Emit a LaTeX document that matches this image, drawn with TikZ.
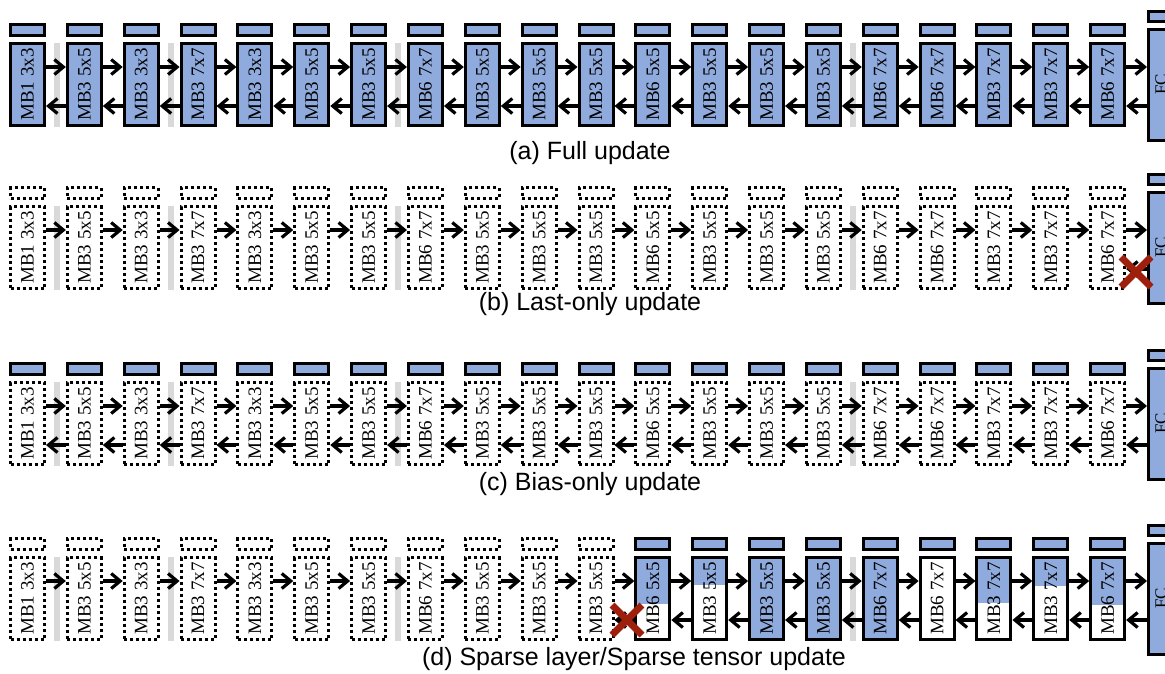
\documentclass[tikz,border=0pt]{standalone}
\usepackage{fontspec}
\usepackage{graphicx}
\setmainfont{Liberation Serif}
\newfontfamily\capfont{Liberation Sans}
\usetikzlibrary{arrows.meta}
\definecolor{blk}{HTML}{8FAADC}
\definecolor{gbar}{HTML}{D9D9D9}
\definecolor{xred}{RGB}{158,32,12}
\begin{document}
\begin{tikzpicture}[x=1pt,y=-1pt,
  dotline/.style={dash pattern=on 3pt off 3pt},
  bar/.style={draw=black,line width=3pt,fill=blk,minimum width=34pt,minimum height=11pt,inner sep=0pt},
  dbar/.style={bar,fill=none,dotline},
  blockbox/.style={draw=black,line width=3pt,fill=blk,minimum width=34pt,minimum height=82pt,inner sep=0pt,font=\fontsize{19}{19}\selectfont},
  dblock/.style={blockbox,fill=none,dotline},
  pblock/.style={blockbox,fill=white,path picture={\fill[blk] (path picture bounding box.north west) rectangle ([yshift=-#1*82pt]path picture bounding box.north east);}},
  fcbox/.style={draw=black,line width=3pt,fill=blk,minimum width=25pt,minimum height=111pt,inner sep=0pt,font=\fontsize{17}{17}\selectfont},
  fcbar/.style={bar,minimum width=25pt,minimum height=10pt},
  arr/.style={line width=3.2pt,-{Straight Barb[length=9pt,width=15pt,line width=3.2pt]}},
  xmark/.style={draw=xred,line width=7pt},
  sepbar/.style={fill=gbar},
  captext/.style={font=\capfont\fontsize{25}{25}\selectfont}
]
\useasboundingbox (0,0) rectangle (1165,673);
\clip (0,0) rectangle (1165,673);

% separator bars
\foreach \dy in {0,163,339,514}{
  \foreach \i in {0,2,6,14}{
    \fill[sepbar] ({27.5+56.85*\i+26.5},{43+\dy}) rectangle ++(6,84);
  }
}

% ---------- Row a ----------
\foreach \lab [count=\i from 0] in {MB1 3x3,MB3 5x5,MB3 3x3,MB3 7x7,MB3 3x3,MB3 5x5,MB3 5x5,MB6 7x7,MB3 5x5,MB3 5x5,MB3 5x5,MB6 5x5,MB3 5x5,MB3 5x5,MB3 5x5,MB6 7x7,MB6 7x7,MB3 7x7,MB3 7x7,MB6 7x7}{
  \node[bar] (abar\i) at ({27.5+56.85*\i},30) {};
  \node[blockbox] (a\i) at ({27.5+56.85*\i},84.5) {\rotatebox{90}{\lab}};
}
\node[fcbar] (afcbar) at (1161,16.5) {};
\node[fcbox] (afc) at (1161,84.5) {\rotatebox{90}{FC}};
\foreach \i in {0,...,18}{
  \pgfmathtruncatemacro\j{\i+1}
  \draw[arr] ([yshift=17.5pt]a\i.east) -- ([yshift=17.5pt]a\j.west);
  \draw[arr] ([yshift=-21.5pt]a\j.west) -- ([yshift=-21.5pt]a\i.east);
}
\draw[arr] ([yshift=17.5pt]a19.east) -- ([yshift=17.5pt]afc.west);
\draw[arr] ([yshift=-21.5pt]afc.west) -- ([yshift=-21.5pt]a19.east);
\node[captext] (capa) at (590,153) {(a) Full update};

% ---------- Row b ----------
\foreach \lab [count=\i from 0] in {MB1 3x3,MB3 5x5,MB3 3x3,MB3 7x7,MB3 3x3,MB3 5x5,MB3 5x5,MB6 7x7,MB3 5x5,MB3 5x5,MB3 5x5,MB6 5x5,MB3 5x5,MB3 5x5,MB3 5x5,MB6 7x7,MB6 7x7,MB3 7x7,MB3 7x7,MB6 7x7}{
  \node[dbar] (bbar\i) at ({27.5+56.85*\i},193) {};
  \node[dblock] (b\i) at ({27.5+56.85*\i},247.5) {\rotatebox{90}{\lab}};
}
\node[fcbar] (bfcbar) at (1161,179.5) {};
\node[fcbox] (bfc) at (1161,247.5) {\rotatebox{90}{FC}};
\foreach \i in {0,...,18}{
  \pgfmathtruncatemacro\j{\i+1}
  \draw[arr] ([yshift=17.5pt]b\i.east) -- ([yshift=17.5pt]b\j.west);
}
\draw[arr] ([yshift=17.5pt]b19.east) -- ([yshift=17.5pt]bfc.west);
\draw[arr] ([yshift=-21.5pt]bfc.west) -- ([yshift=-21.5pt]b19.east);
\coordinate (xb) at (1136,272);
\draw[xmark] ([shift={(-15,-15)}]xb) -- ([shift={(15,15)}]xb);
\draw[xmark] ([shift={(-15,15)}]xb) -- ([shift={(15,-15)}]xb);
\node[captext] (capb) at (590,304) {(b) Last-only update};

% ---------- Row c ----------
\foreach \lab [count=\i from 0] in {MB1 3x3,MB3 5x5,MB3 3x3,MB3 7x7,MB3 3x3,MB3 5x5,MB3 5x5,MB6 7x7,MB3 5x5,MB3 5x5,MB3 5x5,MB6 5x5,MB3 5x5,MB3 5x5,MB3 5x5,MB6 7x7,MB6 7x7,MB3 7x7,MB3 7x7,MB6 7x7}{
  \node[bar] (cbar\i) at ({27.5+56.85*\i},369) {};
  \node[dblock] (c\i) at ({27.5+56.85*\i},423.5) {\rotatebox{90}{\lab}};
}
\node[fcbar] (cfcbar) at (1161,355.5) {};
\node[fcbox] (cfc) at (1161,423.5) {\rotatebox{90}{FC}};
\foreach \i in {0,...,18}{
  \pgfmathtruncatemacro\j{\i+1}
  \draw[arr] ([yshift=17.5pt]c\i.east) -- ([yshift=17.5pt]c\j.west);
  \draw[arr] ([yshift=-21.5pt]c\j.west) -- ([yshift=-21.5pt]c\i.east);
}
\draw[arr] ([yshift=17.5pt]c19.east) -- ([yshift=17.5pt]cfc.west);
\draw[arr] ([yshift=-21.5pt]cfc.west) -- ([yshift=-21.5pt]c19.east);
\node[captext] (capc) at (590,484) {(c) Bias-only update};

% ---------- Row d ----------
\foreach \lab [count=\i from 0] in {MB1 3x3,MB3 5x5,MB3 3x3,MB3 7x7,MB3 3x3,MB3 5x5,MB3 5x5,MB6 7x7,MB3 5x5,MB3 5x5,MB3 5x5}{
  \node[dbar] (dbar\i) at ({27.5+56.85*\i},544) {};
  \node[dblock] (d\i) at ({27.5+56.85*\i},598.5) {\rotatebox{90}{\lab}};
}
\foreach \i/\lab/\f in {11/MB6 5x5/0.567,12/MB3 5x5/0.335,13/MB3 5x5/1,14/MB3 5x5/1,15/MB6 7x7/1,16/MB6 7x7/0,17/MB3 7x7/0.555,18/MB3 7x7/0.347,19/MB6 7x7/0.58}{
  \node[bar] (dbar\i) at ({27.5+56.85*\i},544) {};
  \node[pblock=\f] (d\i) at ({27.5+56.85*\i},598.5) {\rotatebox{90}{\lab}};
}
\node[fcbar] (dfcbar) at (1161,530.5) {};
\node[fcbox] (dfc) at (1161,598.5) {\rotatebox{90}{FC}};
\foreach \i in {0,...,18}{
  \pgfmathtruncatemacro\j{\i+1}
  \draw[arr] ([yshift=17.5pt]d\i.east) -- ([yshift=17.5pt]d\j.west);
}
\foreach \i in {10,...,18}{
  \pgfmathtruncatemacro\j{\i+1}
  \draw[arr] ([yshift=-21.5pt]d\j.west) -- ([yshift=-21.5pt]d\i.east);
}
\draw[arr] ([yshift=17.5pt]d19.east) -- ([yshift=17.5pt]dfc.west);
\draw[arr] ([yshift=-21.5pt]dfc.west) -- ([yshift=-21.5pt]d19.east);
\coordinate (xd) at (627,620);
\draw[xmark] ([shift={(-15,-15)}]xd) -- ([shift={(15,15)}]xd);
\draw[xmark] ([shift={(-15,15)}]xd) -- ([shift={(15,-15)}]xd);
\node[captext] (capd) at (634,659) {(d) Sparse layer/Sparse tensor update};
\end{tikzpicture}
\end{document}
